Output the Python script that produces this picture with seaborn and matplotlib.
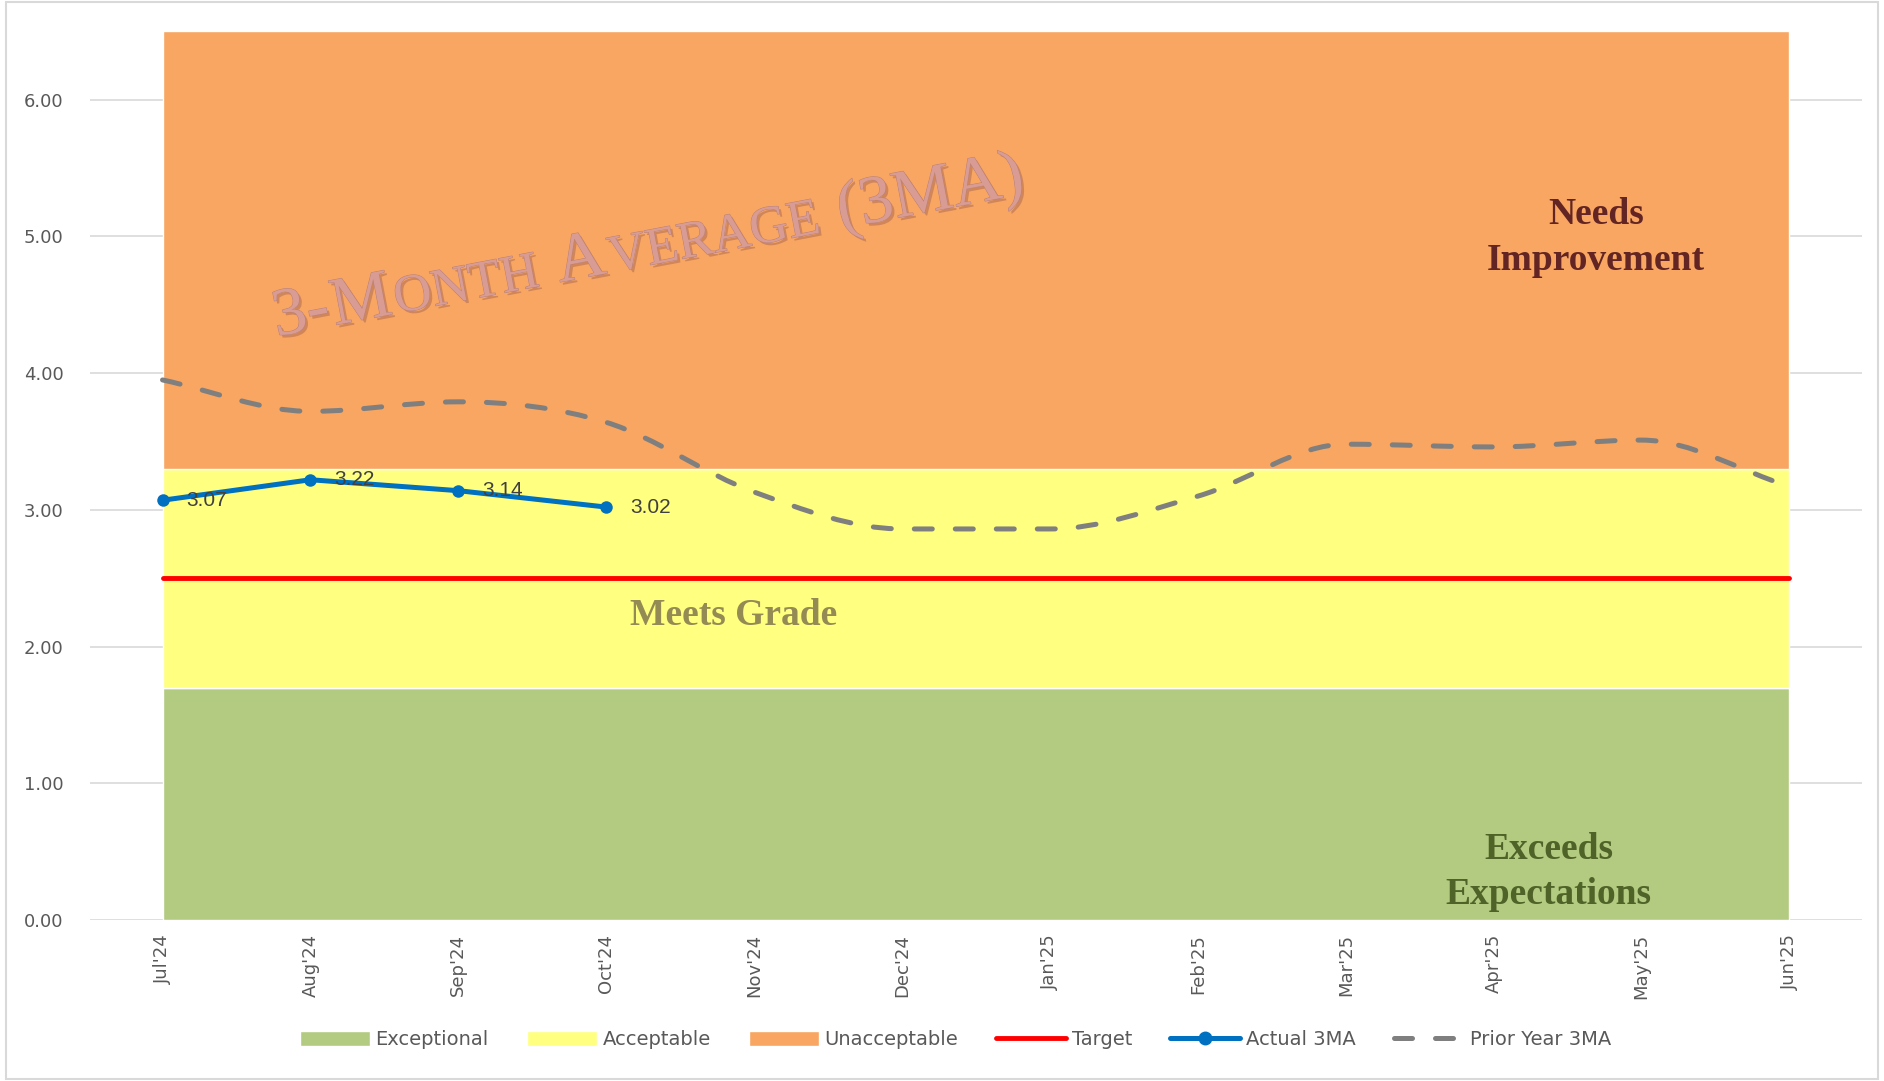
import numpy as np
import matplotlib
matplotlib.use('Agg')
import matplotlib.pyplot as plt
import matplotlib.patheffects as pe
from matplotlib.path import Path
from matplotlib.patches import PathPatch, Patch, Rectangle
from matplotlib.lines import Line2D
from matplotlib.textpath import TextToPath
from matplotlib.font_manager import FontProperties
import seaborn as sns

sns.set_style('white')
plt.rcParams['font.family'] = ['DejaVu Sans']

# data
months = ["Jul'24", "Aug'24", "Sep'24", "Oct'24", "Nov'24", "Dec'24",
          "Jan'25", "Feb'25", "Mar'25", "Apr'25", "May'25", "Jun'25"]
exceptional = [1.7] * 12
acceptable = [1.6] * 12
unacceptable = [3.2] * 12
target = [2.5] * 12
actual_3ma = [3.07, 3.22, 3.14, 3.02]
prior_year_3ma = [3.95, 3.72, 3.79, 3.64, 3.13, 2.86, 2.86, 3.10, 3.48, 3.46, 3.51, 3.17]

green = '#B3CB80'
yellow = '#FFFF80'
orange = '#F8A662'
red = '#FF0000'
blue = '#0070C0'
gray = '#7F7F7F'
text_gray = '#595959'
dash = (0, (3.6, 4.6))

fig = plt.figure(figsize=(18.84, 10.81), dpi=100)
ax = fig.add_axes([0.0478, 0.149, 0.9405, 0.822])

x = np.arange(len(months))

# stacked bands
ax.stackplot(x, exceptional, acceptable, unacceptable,
             colors=[green, yellow, orange], zorder=2)

# target line
sns.lineplot(x=x, y=target, color=red, linewidth=3.5, ax=ax, zorder=4)

# prior year 3MA, smoothed curve through the points (no overshoot)
py = np.asarray(prior_year_3ma, dtype=float)
sec = np.diff(py)
tan = np.zeros_like(py)
tan[0], tan[-1] = sec[0], sec[-1]
for i in range(1, len(py) - 1):
    if sec[i - 1] * sec[i] > 0:
        tan[i] = (sec[i - 1] + sec[i]) / 2
verts = [(x[0], py[0])]
codes = [Path.MOVETO]
for i in range(len(py) - 1):
    verts += [(x[i] + 1 / 3, py[i] + tan[i] / 3),
              (x[i + 1] - 1 / 3, py[i + 1] - tan[i + 1] / 3),
              (x[i + 1], py[i + 1])]
    codes += [Path.CURVE4] * 3
ax.add_patch(PathPatch(Path(verts, codes), fill=False, edgecolor=gray,
                       linewidth=3.6, linestyle=dash, capstyle='round', zorder=5))

# actual 3MA
xa = x[:len(actual_3ma)]
sns.lineplot(x=xa, y=actual_3ma, color=blue, linewidth=3.6, marker='o',
             markersize=9, markeredgewidth=0, ax=ax, zorder=6)
for xi, v in zip(xa, actual_3ma):
    ax.annotate(f'{v:.2f}', (xi, v), xytext=(17, 0), textcoords='offset points',
                va='center', ha='left', fontsize=15, color='#404040',
                family='Liberation Sans', zorder=7)

# band labels
serif = 'Liberation Serif'
ax.text(9.69, 4.99, 'Needs\nImprovement', ha='center', va='center', fontsize=27,
        fontweight='bold', family=serif, color='#632523', linespacing=1.4, zorder=7)
ax.text(3.86, 2.23, 'Meets Grade', ha='center', va='center', fontsize=27,
        fontweight='bold', family=serif, color='#948A54', zorder=7)
ax.text(9.37, 0.35, 'Exceeds\nExpectations', ha='center', va='center', fontsize=27,
        fontweight='bold', family=serif, color='#4F6228', linespacing=1.4, zorder=7)

# watermark title in small caps, laid along a tilted baseline
angle = 10.8
big, small = 49, 38
pieces = [('3-', big), ('M', big), ('ONTH', small), (None, big), ('A', big),
          (None, 3), ('VERAGE', small), (None, big), ('(3MA)', big)]
ttp = TextToPath()
effects = [pe.withSimplePatchShadow(offset=(2, -2), shadow_rgbFace='#A06050', alpha=0.45),
           pe.Stroke(linewidth=0.7, foreground='#B88078'), pe.Normal()]
pos = 0.0
ca, sa = np.cos(np.radians(angle)), np.sin(np.radians(angle))
for s, size in pieces:
    if s is None:
        pos += 0.25 * size
        continue
    ax.annotate(s, (0.77, 4.27), xytext=(pos * ca, pos * sa), textcoords='offset points',
                ha='left', va='baseline', rotation=angle, rotation_mode='anchor',
                fontsize=size, family=serif, color='#D99C94', zorder=3,
                path_effects=effects)
    w, _, _ = ttp.get_text_width_height_descent(s, FontProperties(family=serif, size=size), False)
    pos += w + 0.04 * size

# axes
ax.set_xlim(-0.49, 11.49)
ax.set_ylim(0, 6.5)
ax.set_yticks(np.arange(0, 7, 1))
ax.set_yticklabels([f'{v:.2f}' for v in range(7)])
ax.set_xticks(x)
ax.set_xticklabels(months, rotation=90)
ax.tick_params(axis='y', length=0, pad=19, labelsize=13, labelcolor=text_gray)
ax.tick_params(axis='x', length=0, pad=10, labelsize=13, labelcolor=text_gray)
ax.yaxis.grid(True, color='#D9D9D9', linewidth=1.2, zorder=1)
ax.set_axisbelow(True)
for s in ax.spines.values():
    s.set_visible(False)

handles = [Patch(facecolor=green), Patch(facecolor=yellow), Patch(facecolor=orange),
           Line2D([], [], color=red, linewidth=3.5),
           Line2D([], [], color=blue, linewidth=3.6, marker='o', markersize=9),
           Line2D([], [], color=gray, linewidth=3.6, linestyle=dash,
                  dash_capstyle='round')]
labels = ['Exceptional', 'Acceptable', 'Unacceptable', 'Target', 'Actual 3MA', 'Prior Year 3MA']
fig.legend(handles, labels, loc='center', bbox_to_anchor=(0.507, 0.038), ncol=6,
           frameon=False, fontsize=14, labelcolor=text_gray, handlelength=3.6,
           handleheight=0.8, handletextpad=0.3, columnspacing=1.95)

# chart border
fig.patches.append(Rectangle((0.003, 0.002), 0.994, 0.996, transform=fig.transFigure,
                             fill=False, edgecolor='#D9D9D9', linewidth=1.5))

fig.savefig('out.png', dpi=100)
